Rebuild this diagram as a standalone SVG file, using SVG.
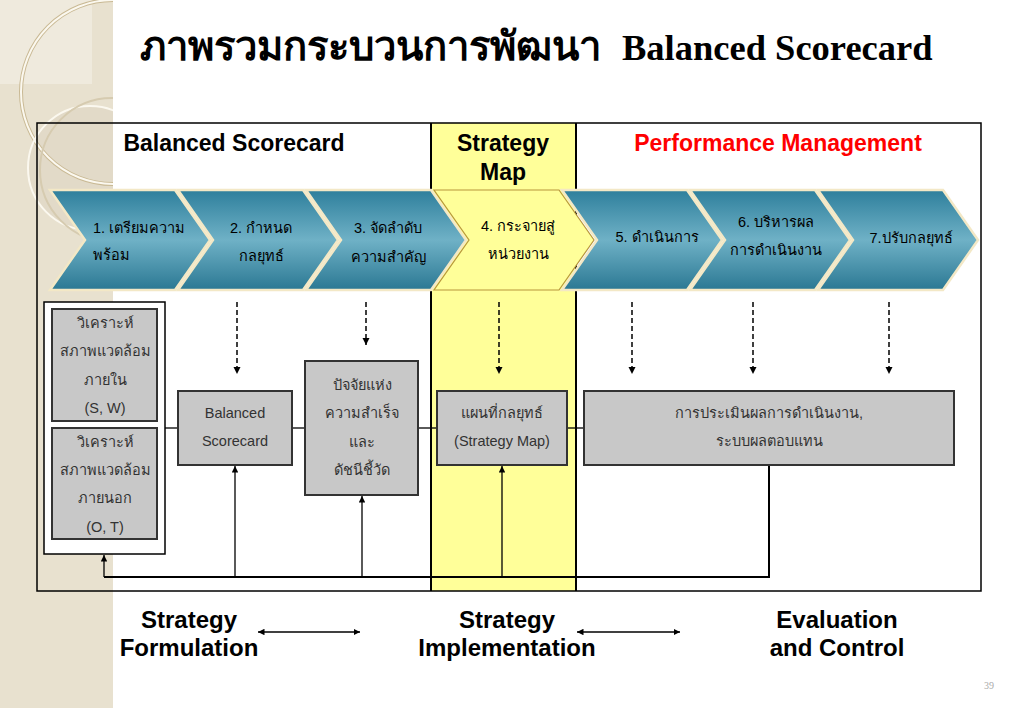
<svg xmlns="http://www.w3.org/2000/svg" width="1023" height="708" viewBox="0 0 1023 708">
<defs>
<style>
.hdr{font-family:"Liberation Sans",Arial,sans-serif;font-weight:bold;font-size:23px;text-anchor:middle;fill:#000}
.ph{font-family:"Liberation Sans",Arial,sans-serif;font-weight:bold;font-size:24px;text-anchor:middle;fill:#000}
.chv{font-family:"Liberation Sans","DejaVu Sans",sans-serif;font-size:14.5px;fill:#000}
.bx{fill:#c8c8c8;stroke:#333;stroke-width:2}
.bt{font-family:"Liberation Sans","DejaVu Sans",sans-serif;font-size:14.5px;fill:#333;text-anchor:middle}
.ln{stroke:#000;stroke-width:1.3;fill:none}
.dash{stroke:#000;stroke-width:1.5;stroke-dasharray:5 3;fill:none}
.ch{stroke:#f3e8c6;stroke-width:2.5}
</style>
<linearGradient id="teal" x1="0" y1="0" x2="0" y2="1">
<stop offset="0" stop-color="#2e7f9c"/>
<stop offset="0.5" stop-color="#6fb1c6"/>
<stop offset="1" stop-color="#2b7893"/>
</linearGradient>
<marker id="ah" viewBox="0 0 10 10" refX="10" refY="5" markerWidth="5" markerHeight="5" orient="auto-start-reverse">
<path d="M0,0 L10,5 L0,10 z" fill="#000"/>
</marker>
<clipPath id="strip"><rect x="0" y="0" width="113" height="708"/></clipPath>
</defs>
<rect width="1023" height="708" fill="#fff"/>
<g id="decor" clip-path="url(#strip)">
<rect x="0" y="0" width="113" height="708" fill="#e8e1cf"/>
<rect x="0" y="0" width="92" height="84" fill="#efeadd"/>
<circle cx="90" cy="168" r="62" fill="#ddd5c3" opacity="0.6"/>
<circle cx="113" cy="92" r="92" fill="none" stroke="#c9b994" stroke-width="4"/>
<circle cx="113" cy="92" r="92" fill="none" stroke="#fbf8ef" stroke-width="2"/>
<circle cx="90" cy="168" r="62" fill="none" stroke="#fbf8ef" stroke-width="2"/>
<circle cx="112" cy="170" r="72" fill="none" stroke="#d6cbb0" stroke-width="2"/>
</g>
<g id="title" font-family="'Liberation Serif','DejaVu Serif',serif" font-weight="bold" fill="#000">
<text x="140" y="60" font-size="40">ภาพรวมกระบวนการพัฒนา</text>
<text x="622" y="60" font-size="36.5">Balanced Scorecard</text>
</g>
<g id="frame">
<rect x="431" y="123" width="145" height="468" fill="#ffff99"/>
<rect x="37" y="123" width="944" height="468" fill="none" stroke="#000" stroke-width="1.5"/>
<line x1="431" y1="123" x2="431" y2="591" stroke="#000" stroke-width="2"/>
<line x1="576" y1="123" x2="576" y2="591" stroke="#000" stroke-width="2"/>
<text class="hdr" x="234" y="151">Balanced Scorecard</text>
<text class="hdr" x="503" y="151">Strategy</text>
<text class="hdr" x="503" y="180">Map</text>
<text class="hdr" x="778" y="151" style="fill:#ff0000">Performance Management</text>
</g>
<g id="step1"><polygon class="ch" fill="url(#teal)" points="50,190 175,190 210,240 175,290 50,290 85,240"/>
<text class="chv" x="93" y="233">1. เตรียมความ</text><text class="chv" x="93" y="260">พร้อม</text></g>
<g id="step2"><polygon class="ch" fill="url(#teal)" points="178,190 303,190 338,240 303,290 178,290 213,240"/>
<text class="chv" x="261" y="233" text-anchor="middle">2. กำหนด</text><text class="chv" x="261" y="261" text-anchor="middle">กลยุทธ์</text></g>
<g id="step3"><polygon class="ch" fill="url(#teal)" points="306,190 431,190 466,240 431,290 306,290 341,240"/>
<text class="chv" x="388" y="233" text-anchor="middle">3. จัดลำดับ</text><text class="chv" x="388" y="262" text-anchor="middle">ความสำคัญ</text></g>
<g id="step4"><polygon fill="#ffff99" stroke="#b8963c" stroke-width="1.2" points="434,190 559,190 594,240 559,290 434,290 469,240"/>
<text class="chv" x="518" y="231" text-anchor="middle">4. กระจายสู่</text><text class="chv" x="518" y="259" text-anchor="middle">หน่วยงาน</text></g>
<g id="step5"><polygon class="ch" fill="url(#teal)" points="562,190 687,190 722,240 687,290 562,290 597,240"/>
<text class="chv" x="657" y="242" text-anchor="middle">5. ดำเนินการ</text></g>
<g id="step6"><polygon class="ch" fill="url(#teal)" points="690,190 815,190 850,240 815,290 690,290 725,240"/>
<text class="chv" x="776" y="227" text-anchor="middle">6. บริหารผล</text><text class="chv" x="776" y="255" text-anchor="middle">การดำเนินงาน</text></g>
<g id="step7"><polygon class="ch" fill="url(#teal)" points="818,190 943,190 978,240 943,290 818,290 853,240"/>
<text class="chv" x="911" y="243" text-anchor="middle">7.ปรับกลยุทธ์</text></g>
<g id="connectors">
<line class="dash" x1="237" y1="302" x2="237" y2="374" marker-end="url(#ah)"/>
<line class="dash" x1="366" y1="302" x2="366" y2="345" marker-end="url(#ah)"/>
<line class="dash" x1="499" y1="302" x2="499" y2="374" marker-end="url(#ah)"/>
<line class="dash" x1="632" y1="302" x2="632" y2="374" marker-end="url(#ah)"/>
<line class="dash" x1="753" y1="302" x2="753" y2="374" marker-end="url(#ah)"/>
<line class="dash" x1="889" y1="302" x2="889" y2="374" marker-end="url(#ah)"/>
<line class="ln" x1="165" y1="428" x2="178" y2="428"/>
<line class="ln" x1="292" y1="428" x2="305" y2="428"/>
<line class="ln" x1="418" y1="428" x2="437" y2="428"/>
<line class="ln" x1="567" y1="428" x2="584" y2="428"/>
<polyline points="769,465 769,577 104,577" fill="none" stroke="#000" stroke-width="2"/>
<line class="ln" x1="104" y1="577" x2="104" y2="555" marker-end="url(#ah)"/>
<line class="ln" x1="235" y1="577" x2="235" y2="466" marker-end="url(#ah)"/>
<line class="ln" x1="362" y1="577" x2="362" y2="496" marker-end="url(#ah)"/>
<line class="ln" x1="502" y1="577" x2="502" y2="466" marker-end="url(#ah)"/>
<line class="ln" x1="258" y1="632" x2="360" y2="632" marker-start="url(#ah)" marker-end="url(#ah)"/>
<line class="ln" x1="577" y1="632" x2="680" y2="632" marker-start="url(#ah)" marker-end="url(#ah)"/>
</g>
<g id="env">
<rect x="44" y="302" width="121" height="252" fill="#fff" stroke="#000" stroke-width="1.5"/>
</g>
<g id="internal"><rect class="bx" x="52" y="309" width="105" height="112"/>
<text class="bt" x="105" y="328">วิเคราะห์</text><text class="bt" x="105" y="356">สภาพแวดล้อม</text><text class="bt" x="105" y="385">ภายใน</text><text class="bt" x="105" y="413">(S, W)</text></g>
<g id="external"><rect class="bx" x="52" y="428" width="105" height="111"/>
<text class="bt" x="105" y="447">วิเคราะห์</text><text class="bt" x="105" y="475">สภาพแวดล้อม</text><text class="bt" x="105" y="503">ภายนอก</text><text class="bt" x="105" y="532">(O, T)</text></g>
<g id="bsc"><rect class="bx" x="178" y="391" width="114" height="74"/>
<text class="bt" x="235" y="418">Balanced</text><text class="bt" x="235" y="446">Scorecard</text></g>
<g id="csf"><rect class="bx" x="305" y="361" width="113" height="134"/>
<text class="bt" x="362" y="390">ปัจจัยแห่ง</text><text class="bt" x="362" y="418">ความสำเร็จ</text><text class="bt" x="362" y="447">และ</text><text class="bt" x="362" y="475">ดัชนีชี้วัด</text></g>
<g id="smap"><rect class="bx" x="437" y="391" width="130" height="74"/>
<text class="bt" x="502" y="418">แผนที่กลยุทธ์</text><text class="bt" x="502" y="446">(Strategy Map)</text></g>
<g id="perf"><rect class="bx" x="584" y="391" width="370" height="74"/>
<text class="bt" x="769" y="418">การประเมินผลการดำเนินงาน,</text><text class="bt" x="769" y="446">ระบบผลตอบแทน</text></g>
<g id="phases">
<text class="ph" x="189" y="628">Strategy</text><text class="ph" x="189" y="656">Formulation</text>
<text class="ph" x="507" y="628">Strategy</text><text class="ph" x="507" y="656">Implementation</text>
<text class="ph" x="837" y="628">Evaluation</text><text class="ph" x="837" y="656">and Control</text>
</g>
<text x="989" y="689" text-anchor="middle" font-family="'Liberation Serif',serif" font-size="10" fill="#aaa">39</text>
</svg>
